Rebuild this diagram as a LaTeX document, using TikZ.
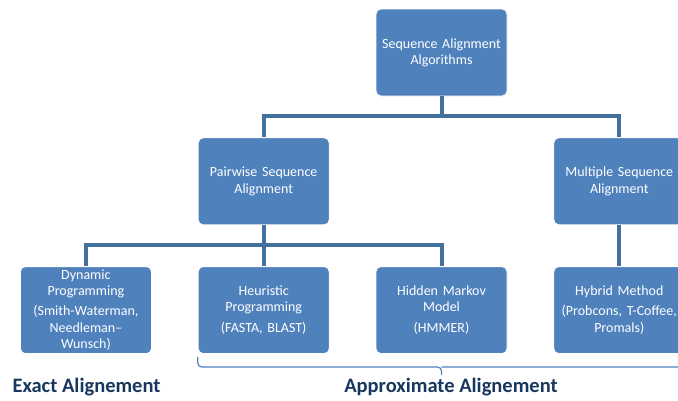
\documentclass[tikz,border=0pt]{standalone}
\usepackage{fontspec}
\setmainfont{Carlito}
\usepackage{tikz}
\usetikzlibrary{positioning}
\definecolor{boxblue}{HTML}{4F81BD}
\definecolor{linkblue}{HTML}{41719C}
\definecolor{navy}{HTML}{17375E}

\begin{document}
\begin{tikzpicture}[
  x=1pt, y=-1pt,
  font=\fontsize{14}{16.3}\selectfont,
  algo/.style={draw=white, line width=0.8pt, fill=boxblue, text=white, rounded corners=5pt,
    align=center, inner sep=1pt, minimum width=131pt, minimum height=87pt, text width=128pt},
  conn/.style={draw=linkblue, line width=4pt},
  brc/.style={draw=boxblue, line width=1.2pt, rounded corners=4pt},
  lbl/.style={text=navy, font=\fontsize{20.5}{24}\selectfont\bfseries}
]
\clip (0,0) rectangle (678,400);
\node[algo] (top) at (441.5,52.5) {Sequence Alignment\\Algorithms};
\node[algo, below left=41pt and 46pt of top] (pair) {Pairwise Sequence\\Alignment};
\node[algo, below right=41pt and 46pt of top] (multi) {Multiple Sequence\\Alignment};
\node[algo, below=41pt of pair] (heur) {Heuristic\\Programming\\[4pt](FASTA, BLAST)};
\node[algo, left=46pt of heur] (dyn) {Dynamic\\Programming\\[4pt](Smith-Waterman,\\Needleman--\\Wunsch)};
\node[algo, right=46pt of heur] (hid) {Hidden Markov\\Model\\[4pt](HMMER)};
\node[algo, below=41pt of multi] (hyb) {Hybrid Method\\[4pt](Probcons, T-Coffee,\\Promals)};
% tree links
\draw[conn] (top.south) -- ++(0,20) -| (pair.north);
\draw[conn] (top.south) -- ++(0,20) -| (multi.north);
\draw[conn] (pair.south) -- ++(0,20) -| (dyn.north);
\draw[conn] (pair.south) -- ++(0,20) -| (hid.north);
\draw[conn] (pair) -- (heur);
\draw[conn] (multi) -- (hyb);
% brace under the approximate methods
\draw[brc] ([yshift=-3pt]heur.south west) |- ([yshift=-13pt]hid.south) -- ++(0,8);
\draw[brc] ([yshift=-13pt]hid.south) -| (685,353);
\node[lbl] (exact) at (86.5,387) {Exact Alignement};
\node[lbl] (approx) at (451,387) {Approximate Alignement};
\end{tikzpicture}
\end{document}
